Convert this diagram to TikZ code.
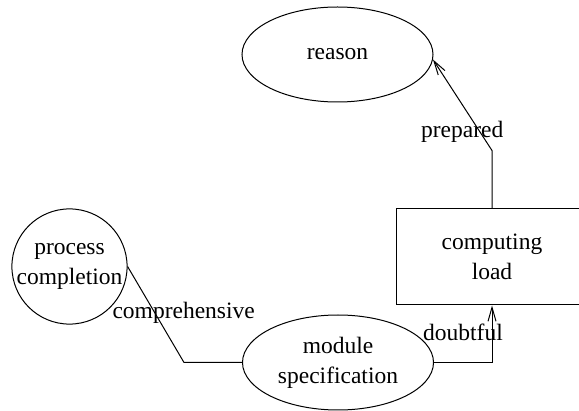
\documentclass[tikz,border=0pt]{standalone}
\usepackage{fontspec}
\setmainfont{Liberation Serif}
\usetikzlibrary{positioning, arrows.meta, shapes.geometric}
\tikzset{
  base/.style={
    draw, align=center, inner sep=0pt, line width=1pt,
    font=\fontsize{23.5}{30}\selectfont
  },
  oval/.style={base, ellipse, minimum width=191pt, minimum height=95pt},
  roundbox/.style={base, circle, minimum size=115pt},
  plainbox/.style={base, rectangle, minimum width=192pt, minimum height=96pt},
  % edges
  flow/.style={-{Straight Barb[length=14pt, width=8pt]}, line width=1pt},
  link/.style={-, line width=1pt},
  edgelabel/.style={font=\fontsize{23.5}{30}\selectfont, inner sep=0pt},
}

\begin{document}
\begin{tikzpicture}[x=1pt, y=1pt, on grid]

  \useasboundingbox (0,0) rectangle (579,-411);
  \clip (0,0) rectangle (579,-411);

  %% -- Nodes --
  \node[oval] (reason) at (337.5,-54.5) {reason};
  \node[plainbox, below right=202.5pt and 154.5pt of reason] (load) {computing\\load};
  \node[oval, below left=105.5pt and 154pt of load] (spec) {module\\specification};
  \node[roundbox, above left=96pt and 268.5pt of spec] (compl) {process\\completion};

  %% -- Bends --
  \coordinate (bendA) at (184,-362.5);
  \coordinate (bendC) at ([yshift=58pt]load.north);

  %% -- Edges --
  \draw[link] (compl.east) -- node[edgelabel, pos=0.48, xshift=29pt] {comprehensive} (bendA) -- (spec.west);
  \draw[flow] (spec.east) -| node[edgelabel, pos=0.75, xshift=-29pt, yshift=1.5pt] {doubtful} (load.south);
  \draw[flow] (load.north) -- (bendC) -- node[edgelabel, pos=0.2, xshift=-18pt] {prepared} (reason.-3);

\end{tikzpicture}
\end{document}
